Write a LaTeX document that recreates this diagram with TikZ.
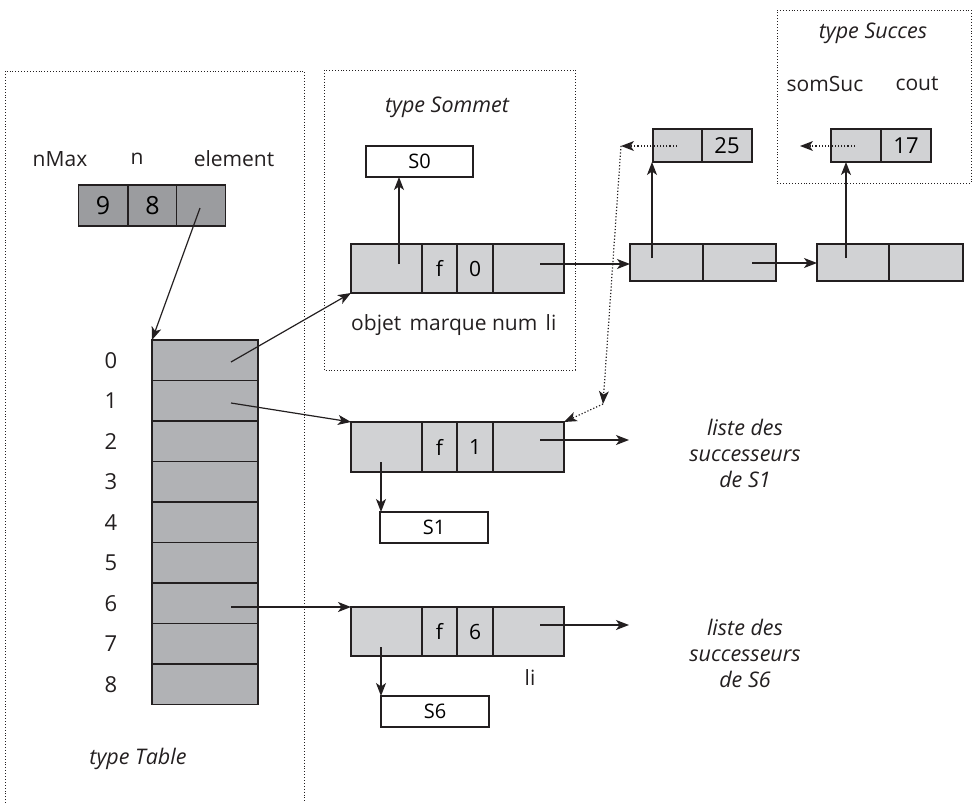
\documentclass[tikz,border=0pt]{standalone}
\usepackage{fontspec}
\setmainfont{Open Sans}
\usetikzlibrary{arrows.meta}
\definecolor{darkcell}{HTML}{9B9C9F}
\definecolor{midcell}{HTML}{B1B2B5}
\definecolor{lightcell}{HTML}{D1D2D4}
\definecolor{ink}{HTML}{231F20}
\tikzset{
  cellbox/.style={draw=ink, line width=1.2pt, inner sep=0pt, outer sep=0pt, rectangle, anchor=center},
  darkbox/.style={cellbox, fill=darkcell},
  midbox/.style={cellbox, fill=midcell},
  lightbox/.style={cellbox, fill=lightcell},
  whitebox/.style={cellbox, fill=white},
  arr/.style={draw=ink, line width=1.2pt, -{Stealth[length=13pt, width=10pt, inset=3.5pt]}},
  dotarr/.style={draw=ink, line width=1.2pt, dotted, -{Stealth[length=13pt, width=10pt, inset=3.5pt, line width=0pt]}},
  dotline/.style={draw=ink, line width=0.9pt, dotted},
  lbl/.style={inner sep=0pt, text=ink, font=\fontsize{21}{25}\selectfont},
  ital/.style={inner sep=0pt, text=ink, font=\fontsize{21.5}{26}\selectfont\itshape, align=center},
}
\begin{document}
\begin{tikzpicture}[x=1pt, y=-1pt]
\useasboundingbox (0,0) rectangle (972,803);

% dotted type frames
\draw[dotline] (5,803) -- (5,71) -- (304,71) -- (304,803);
\draw[dotline] (324,70) rectangle (575,370);
\draw[dotline] (777,10) -- (971,10) -- (971,183) -- (777,183) -- cycle;

% type labels
\node[ital] (typeTable) at (138,759) {type Table};
\node[ital] (typeSommet) at (447,107) {type Sommet};
\node[ital] (typeSucces) at (873,33) {type Succes};

% top record nMax n element
\node[lbl] (lnMax) at (60,159) {nMax};
\node[lbl] (ln) at (137,159) {n};
\node[lbl] (lelem) at (234,159) {element};
\node[darkbox, minimum width=49pt, minimum height=41pt, font=\fontsize{25}{28}\selectfont] (tm1) at (103,205.5) {9};
\node[darkbox, minimum width=49pt, minimum height=41pt, font=\fontsize{25}{28}\selectfont] (tm2) at (152.5,205.5) {8};
\node[darkbox, minimum width=49pt, minimum height=41pt] (tm3) at (201,205.5) {};

% table
\foreach \i in {0,...,8} {
  \node[midbox, minimum width=106pt, minimum height=40.5pt] (t\i) at (205,{340+40.5*(\i+0.5)}) {};
  \node[lbl, font=\fontsize{22}{26}\selectfont] (idx\i) at (111,{340+40.5*(\i+0.5)}) {\i};
}

% Sommet S0 record
\node[lightbox, minimum width=71pt, minimum height=49pt] (ob0) at (386.5,268.5) {};
\node[lightbox, minimum width=35pt, minimum height=49pt, font=\fontsize{21}{25}\selectfont] (ma0) at (439.5,268.5) {f};
\node[lightbox, minimum width=36pt, minimum height=49pt, font=\fontsize{21}{25}\selectfont] (nu0) at (475,268.5) {0};
\node[lightbox, minimum width=71pt, minimum height=49pt] (li0) at (528.5,268.5) {};
\node[whitebox, minimum width=107pt, minimum height=31pt, font=\fontsize{20}{24}\selectfont] (s0box) at (419.5,161.5) {S0};
\node[lbl, anchor=west] (fieldnames) at (351,325) {objet\hspace{0.4em}marque num\hspace{0.4em}li};

% S1 record
\node[lightbox, minimum width=71pt, minimum height=50pt] (ob1) at (386.5,447) {};
\node[lightbox, minimum width=35pt, minimum height=50pt, font=\fontsize{21}{25}\selectfont] (ma1) at (439.5,447) {f};
\node[lightbox, minimum width=36pt, minimum height=50pt, font=\fontsize{21}{25}\selectfont] (nu1) at (475,447) {1};
\node[lightbox, minimum width=71pt, minimum height=50pt] (li1) at (528.5,447) {};
\node[whitebox, minimum width=108pt, minimum height=31pt, font=\fontsize{20}{24}\selectfont] (s1box) at (434,527.5) {S1};

% S6 record
\node[lightbox, minimum width=71pt, minimum height=49pt] (ob6) at (386.5,631.5) {};
\node[lightbox, minimum width=35pt, minimum height=49pt, font=\fontsize{21}{25}\selectfont] (ma6) at (439.5,631.5) {f};
\node[lightbox, minimum width=36pt, minimum height=49pt, font=\fontsize{21}{25}\selectfont] (nu6) at (475,631.5) {6};
\node[lightbox, minimum width=71pt, minimum height=49pt] (li6) at (528.5,631.5) {};
\node[whitebox, minimum width=108pt, minimum height=31pt, font=\fontsize{20}{24}\selectfont] (s6box) at (435,711.5) {S6};
\node[lbl] (li6lbl) at (530,678) {li};

% successor lists text
\node[ital] (succ1) at (745,453) {liste des\\successeurs\\de S1};
\node[ital] (succ6) at (745,653) {liste des\\successeurs\\de S6};

% successor nodes
\node[lightbox, minimum width=73pt, minimum height=37pt] (n1a) at (666.5,262.5) {};
\node[lightbox, minimum width=73pt, minimum height=37pt] (n1b) at (739.5,262.5) {};
\node[lightbox, minimum width=72pt, minimum height=37pt] (n2a) at (853,262.5) {};
\node[lightbox, minimum width=74pt, minimum height=37pt] (n2b) at (926,262.5) {};
\node[lightbox, minimum width=49pt, minimum height=33pt] (c25a) at (677.5,145.5) {};
\node[lightbox, minimum width=50pt, minimum height=33pt, font=\fontsize{22}{26}\selectfont] (c25b) at (727,145.5) {25};
\node[lightbox, minimum width=50pt, minimum height=33pt] (c17a) at (856,145.5) {};
\node[lightbox, minimum width=50pt, minimum height=33pt, font=\fontsize{22}{26}\selectfont] (c17b) at (906,145.5) {17};
\node[lbl] (somSuc) at (825,84) {somSuc};
\node[lbl] (cout) at (917,84) {cout};

% pointer origins
\coordinate (pElem) at (200,208);
\coordinate (p0) at (231,362);
\coordinate (p1) at (231,403);
\coordinate (p6) at (231,607);
\coordinate (pob0) at (399,264);
\coordinate (pli0) at (540,264);
\coordinate (pob1) at (381,462);
\coordinate (pli1) at (540,440);
\coordinate (end1) at (629,440);
\coordinate (pob6) at (381,647);
\coordinate (pli6) at (540,625);
\coordinate (end6) at (629,625);
\coordinate (pn1a) at (652,258);
\coordinate (pn1b) at (752,263);
\coordinate (pn2a) at (846,258);
\coordinate (d25) at (677,146);
\coordinate (bend1) at (621,146);
\coordinate (bend2) at (603,404);
\coordinate (d17) at (855,146);
\coordinate (e17) at (800,146);

% arrows
\draw[arr] (pElem) -- (t0.north west);
\draw[arr] (p0) -- (ob0.south west);
\draw[arr] (p1) -- (ob1.north west);
\draw[arr] (p6) -- (ob6.north west);
\draw[arr] (pob0) -- (pob0 |- s0box.south);
\draw[arr] (pli0) -- (pli0 -| n1a.west);
\draw[arr] (pn1b) -- (pn1b -| n2a.west);
\draw[arr] (pn1a) -- (pn1a |- c25a.south);
\draw[arr] (pn2a) -- (pn2a |- c17a.south);
\draw[arr] (pob1) -- (pob1 |- s1box.north);
\draw[arr] (pli1) -- (end1);
\draw[arr] (pob6) -- (pob6 |- s6box.north);
\draw[arr] (pli6) -- (end6);

% dotted pointers
\draw[dotarr] (d25) -- (bend1);
\draw[dotarr] (bend1) -- (bend2);
\draw[dotarr] (bend2) -- (li1.north east);
\draw[dotarr] (d17) -- (e17);
\end{tikzpicture}
\end{document}
